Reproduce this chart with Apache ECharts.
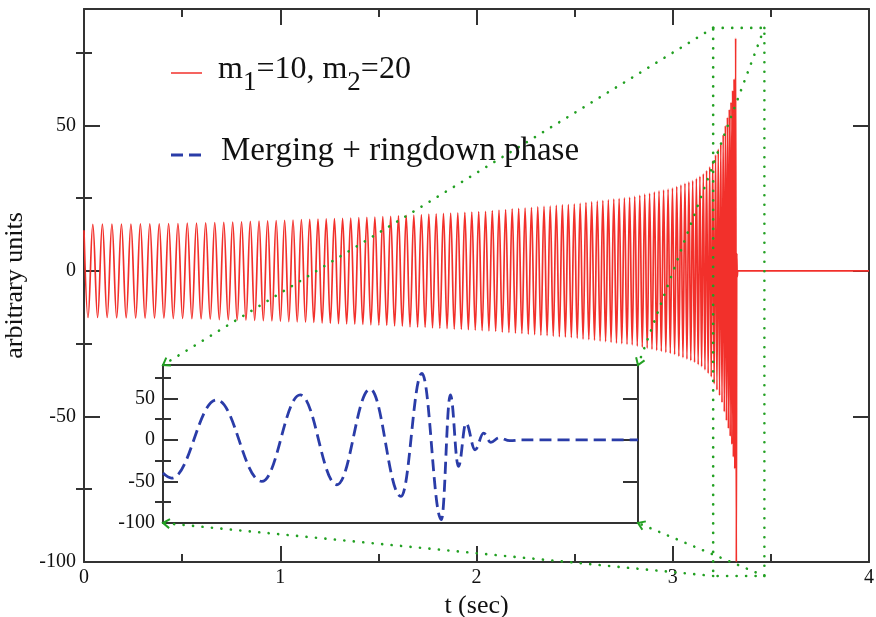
<!DOCTYPE html>
<html>
<head>
<meta charset="utf-8">
<script src="https://cdn.jsdelivr.net/npm/echarts@6/dist/echarts.min.js"></script>
<style>
  html, body { margin: 0; padding: 0; background: #ffffff; }
  #chart { width: 876px; height: 617px; }
</style>
</head>
<body>
<div id="chart"></div>
<script>
// Inspiral waveform: times (s) of successive crests/troughs and their heights.
const chirpT = [
  0, 0.0205, 0.0449, 0.0693, 0.0937, 0.1180, 0.1423, 0.1665, 0.1908, 0.2149, 0.2391,
  0.2632, 0.2873, 0.3113, 0.3353, 0.3593, 0.3833, 0.4072, 0.4311, 0.4549, 0.4787, 0.5025,
  0.5262, 0.5498, 0.5733, 0.5967, 0.6200, 0.6432, 0.6663, 0.6893, 0.7122, 0.7350, 0.7577,
  0.7803, 0.8028, 0.8252, 0.8475, 0.8697, 0.8918, 0.9138, 0.9357, 0.9575, 0.9792, 1.0008,
  1.0223, 1.0437, 1.0651, 1.0864, 1.1077, 1.1289, 1.1501, 1.1712, 1.1923, 1.2133, 1.2343,
  1.2552, 1.2761, 1.2969, 1.3177, 1.3384, 1.3591, 1.3797, 1.4003, 1.4208, 1.4413, 1.4617,
  1.4821, 1.5024,
  1.5226, 1.5427, 1.5627, 1.5826, 1.6024, 1.6221, 1.6417, 1.6612, 1.6806, 1.6999, 1.7191,
  1.7382, 1.7571, 1.7759, 1.7946, 1.8132, 1.8317, 1.8501, 1.8684, 1.8866, 1.9047, 1.9227,
  1.9406, 1.9584, 1.9761, 1.9937, 2.0112,
  2.0286, 2.0460, 2.0633, 2.0805, 2.0976, 2.1146, 2.1315, 2.1483, 2.1651, 2.1818, 2.1984,
  2.2149, 2.2313, 2.2476, 2.2639, 2.2801, 2.2962, 2.3122, 2.3281, 2.3440, 2.3598, 2.3755,
  2.3911, 2.4066, 2.4221, 2.4375, 2.4528, 2.4680, 2.4832, 2.4983, 2.5133,
  2.5282, 2.5430, 2.5577, 2.5723, 2.5868, 2.6012, 2.6155, 2.6297, 2.6438, 2.6578, 2.6718,
  2.6857, 2.6995, 2.7132, 2.7268, 2.7403, 2.7537, 2.7670, 2.7802, 2.7933, 2.8063,
  2.8192, 2.8320, 2.8447, 2.8573, 2.8697, 2.8820, 2.8942, 2.9063, 2.9182, 2.9300, 2.9417,
  2.9533, 2.9648, 2.9762, 2.9874, 2.9985, 3.0095,
  3.0204, 3.0311, 3.0416, 3.0520, 3.0622, 3.0723, 3.0822, 3.0920, 3.1016,
  3.1111, 3.1204, 3.1295, 3.1384, 3.1471, 3.1557, 3.1641, 3.1723, 3.1804, 3.1883, 3.1960, 3.2036,
  3.2110, 3.2182, 3.2252, 3.2319, 3.2384, 3.2448, 3.2510,
  3.2570, 3.2627, 3.2682, 3.2735, 3.2786, 3.2835, 3.2882, 3.2927, 3.2970, 3.3011, 3.3051,
  3.3089, 3.3125, 3.3160,
  3.3205, 3.3240, 3.3262, 3.3285, 3.3310, 4.0
];
const chirpV = [
  14, -16.0, 16.0, -16.0, 16.1, -16.0, 16.1, -16.1, 16.1, -16.1, 16.1,
  -16.2, 16.2, -16.2, 16.2, -16.2, 16.2, -16.2, 16.3, -16.3, 16.3, -16.3,
  16.4, -16.4, 16.4, -16.5, 16.5, -16.6, 16.6, -16.7, 16.7, -16.8, 16.8,
  -16.9, 16.9, -16.9, 17.0, -17.0, 17.1, -17.1, 17.2, -17.2, 17.3, -17.3,
  17.4, -17.4, 17.5, -17.5, 17.6, -17.6, 17.7, -17.7, 17.8, -17.9, 17.9,
  -18.0, 18.0, -18.1, 18.1, -18.2, 18.2, -18.3, 18.3, -18.4, 18.4, -18.5,
  18.5, -18.6,
  18.7, -18.7, 18.8, -18.9, 18.9, -19.0, 19.1, -19.2, 19.2, -19.3, 19.4,
  -19.4, 19.5, -19.6, 19.6, -19.7, 19.8, -19.8, 19.9, -20.0, 20.0, -20.1,
  20.1, -20.2, 20.2, -20.3, 20.4,
  -20.5, 20.5, -20.6, 20.7, -20.8, 20.9, -21.0, 21.1, -21.2, 21.3, -21.4,
  21.5, -21.5, 21.6, -21.7, 21.8, -21.9, 22.0, -22.1, 22.2, -22.2, 22.3,
  -22.4, 22.5, -22.6, 22.7, -22.7, 22.8, -22.9, 23.0, -23.1,
  23.2, -23.4, 23.5, -23.6, 23.7, -23.8, 24.0, -24.1, 24.2, -24.3, 24.4,
  -24.5, 24.7, -24.8, 24.9, -25.0, 25.1, -25.2, 25.3, -25.4, 25.6,
  -25.8, 26.0, -26.2, 26.4, -26.5, 26.7, -26.9, 27.1, -27.3, 27.5, -27.6,
  27.8, -28.0, 28.1, -28.3, 28.5, -28.7,
  29.0, -29.3, 29.5, -29.8, 30.1, -30.3, 30.6, -30.8, 31.0,
  -31.4, 31.8, -32.2, 32.5, -32.9, 33.4, -34.0, 34.5, -35.2, 35.8, -36.4, 37.8,
  -38.8, 39.9, -40.9, 41.9, -42.8, 43.7, -45.2,
  46.8, -48.4, 49.9, -51.4, 52.8, -54.2, 55.5, -56.8, 58.0, -59.6, 62.0,
  -64.0, 66.0, -68.0,
  80, -100, 6, -2, 0, 0
];

// Close-up of the merger and ringdown (inset), time in ms from the window start.
const insetT = [0, 1.8, 11.3, 20.8, 28.9, 36.6, 43.6, 50.1, 54.5, 58.6, 60.5, 62.2,
  63.8, 65.7, 67.5, 69.0, 70.8, 73.0, 75.5, 100];
const insetV = [-40, -46, 48, -50, 54, -54, 61, -68, 80, -96, 54, -32,
  20, -12, 8, -3, 2.5, -1, 0, 0];

const seriesNames = ['m1=10, m2=20', 'Merging + ringdown phase'];

// Main axes
const mainX = { min: 0, max: 4, step: 1 };
const mainY = { min: -100, max: 90 };
const majorY = [-100, -50, 0, 50];
const minorY = [-75, -25, 25, 75];
// Inset axes
const insetX = { min: 0, max: 100 };
// Region of the main plot that the inset magnifies (t in s, value)
const zoomWindow = { t0: 3.206, t1: 3.467, v0: -104.8, v1: 83.5 };

const FONT = '"Liberation Serif", "Times New Roman", Times, serif';
const INK = '#111111';
const FRAME = '#333333';
const RED = '#f2302b';
const BLUE = '#2a3ca8';
const GREEN = '#22a022';

const chart = echarts.init(document.getElementById('chart'), null, { renderer: 'canvas' });

function frameLine() { return { show: true, onZero: false, lineStyle: { color: FRAME, width: 2 } }; }
function tickStyle() { return { color: FRAME, width: 2 }; }

function xAxisFor(gridIndex, position, extent, withTicks, withLabels, name) {
  const ax = {
    gridIndex, type: 'value', position,
    min: extent.min, max: extent.max,
    axisLine: frameLine(),
    splitLine: { show: false },
    axisTick: { show: withTicks, inside: true, length: 16, lineStyle: tickStyle() },
    minorTick: { show: withTicks, splitNumber: 2, length: 8, lineStyle: tickStyle() },
    axisLabel: { show: withLabels, fontFamily: FONT, fontSize: 20, color: INK, margin: 6 },
    axisPointer: { show: false }
  };
  if (extent.step) ax.interval = extent.step;
  if (name) {
    ax.name = name;
    ax.nameLocation = 'middle';
    ax.nameGap = 30;
    ax.nameTextStyle = { fontFamily: FONT, fontSize: 26, color: INK, verticalAlign: 'top' };
  }
  return ax;
}

function yAxisFor(gridIndex, position, values, len, showLine, withLabels, name) {
  const ax = {
    gridIndex, type: 'value', position,
    min: mainY.min, max: mainY.max,
    axisLine: showLine ? frameLine() : { show: false },
    splitLine: { show: false },
    axisTick: { show: true, inside: true, length: len, customValues: values, lineStyle: tickStyle() },
    axisLabel: withLabels
      ? { show: true, customValues: values, fontFamily: FONT, fontSize: 20, color: INK, margin: 8 }
      : { show: false },
    axisPointer: { show: false }
  };
  if (name) {
    ax.name = name;
    ax.nameLocation = 'middle';
    ax.nameGap = 54;
    ax.nameRotate = 90;
    ax.nameTextStyle = { fontFamily: FONT, fontSize: 26, color: INK };
  }
  return ax;
}

const option = {
  backgroundColor: '#ffffff',
  animation: false,
  grid: [
    { left: 84, top: 9, width: 785, height: 553, outerBoundsMode: 'none', containLabel: false },
    { left: 163, top: 365, width: 475, height: 158, outerBoundsMode: 'none', containLabel: false,
      show: true, backgroundColor: '#ffffff', borderWidth: 0 }
  ],
  xAxis: [
    xAxisFor(0, 'bottom', mainX, true, true, 't (sec)'),
    xAxisFor(0, 'top', mainX, true, false),
    xAxisFor(1, 'bottom', insetX, false, false),
    xAxisFor(1, 'top', insetX, false, false)
  ],
  yAxis: [
    yAxisFor(0, 'left', majorY, 16, true, true, 'arbitrary units'),
    yAxisFor(0, 'left', minorY, 8, false, false),
    yAxisFor(0, 'right', majorY, 16, true, false),
    yAxisFor(0, 'right', minorY, 8, false, false),
    yAxisFor(1, 'left', majorY, 15, true, true),
    yAxisFor(1, 'left', minorY, 8, false, false),
    yAxisFor(1, 'right', majorY, 15, true, false),
    yAxisFor(1, 'right', minorY, 8, false, false)
  ],
  series: [
    {
      type: 'line', name: seriesNames[0],
      xAxisIndex: 0, yAxisIndex: 0,
      data: chirpT.map((t, i) => [t, chirpV[i]]),
      showSymbol: false, symbol: 'none',
      smooth: 0.4, smoothMonotone: 'x',
      lineStyle: { color: RED, width: 1.7 },
      z: 3
    },
    {
      type: 'line', name: seriesNames[1],
      xAxisIndex: 2, yAxisIndex: 4,
      data: insetT.map((t, i) => [t, insetV[i]]),
      showSymbol: false, symbol: 'none',
      smooth: 0.4, smoothMonotone: 'x',
      lineStyle: { color: BLUE, width: 2.8, type: [12, 6] },
      z: 3
    }
  ]
};
chart.setOption(option);

// Magnifier outline and connectors, placed from the axes' own scales.
const px = (xi, yi, p) => chart.convertToPixel({ xAxisIndex: xi, yAxisIndex: yi }, p);
const boxTL = px(0, 0, [zoomWindow.t0, zoomWindow.v1]);
const boxTR = px(0, 0, [zoomWindow.t1, zoomWindow.v1]);
const boxBR = px(0, 0, [zoomWindow.t1, zoomWindow.v0]);
const boxBL = px(0, 0, [zoomWindow.t0, zoomWindow.v0]);
const inTL = px(2, 4, [insetX.min, mainY.max]);
const inTR = px(2, 4, [insetX.max, mainY.max]);
const inBR = px(2, 4, [insetX.max, mainY.min]);
const inBL = px(2, 4, [insetX.min, mainY.min]);

const dotted = { stroke: GREEN, fill: null, lineWidth: 2.6, lineDash: [0.1, 9.4], lineCap: 'round' };

function chevron(from, tip) {
  const dx = tip[0] - from[0], dy = tip[1] - from[1];
  const len = Math.hypot(dx, dy);
  const ux = dx / len, uy = dy / len;
  const a = 0.6, L = 8;
  const w1 = [tip[0] - L * (ux * Math.cos(a) - uy * Math.sin(a)), tip[1] - L * (uy * Math.cos(a) + ux * Math.sin(a))];
  const w2 = [tip[0] - L * (ux * Math.cos(a) + uy * Math.sin(a)), tip[1] - L * (uy * Math.cos(a) - ux * Math.sin(a))];
  return { type: 'polyline', z: 100, silent: true,
    shape: { points: [w1, tip, w2] },
    style: { stroke: GREEN, fill: null, lineWidth: 2 } };
}

const graphics = [
  { type: 'polygon', z: 100, silent: true, shape: { points: [boxTL, boxTR, boxBR, boxBL] }, style: dotted },
  { type: 'polyline', z: 100, silent: true, shape: { points: [boxTL, inTL] }, style: dotted },
  { type: 'polyline', z: 100, silent: true, shape: { points: [boxTR, inTR] }, style: dotted },
  { type: 'polyline', z: 100, silent: true, shape: { points: [boxBL, inBL] }, style: dotted },
  { type: 'polyline', z: 100, silent: true, shape: { points: [boxBR, inBR] }, style: dotted },
  chevron(boxTL, inTL), chevron(boxTR, inTR), chevron(boxBL, inBL), chevron(boxBR, inBR),

  // Legend
  { type: 'line', z: 100, silent: true, shape: { x1: 171, y1: 73, x2: 202, y2: 73 },
    style: { stroke: RED, lineWidth: 1.5 } },
  { type: 'text', z: 100, silent: true, x: 218, y: 54,
    style: {
      text: '{a|m}{b|1}{a|=10, m}{b|2}{a|=20}',
      verticalAlign: 'top',
      rich: {
        a: { fontFamily: FONT, fontSize: 32, lineHeight: 32, fill: INK, verticalAlign: 'top' },
        b: { fontFamily: FONT, fontSize: 27, lineHeight: 27, fill: INK, verticalAlign: 'top', padding: [15, 0, 0, 0] }
      }
    } },
  { type: 'line', z: 100, silent: true, shape: { x1: 171, y1: 155, x2: 202, y2: 155 },
    style: { stroke: BLUE, lineWidth: 2.8, lineDash: [12, 6] } },
  { type: 'text', z: 100, silent: true, x: 221, y: 151,
    style: { text: seriesNames[1], fontFamily: FONT, fontSize: 33, fill: INK, verticalAlign: 'middle' } }
];
chart.setOption({ graphic: graphics });
</script>
</body>
</html>
